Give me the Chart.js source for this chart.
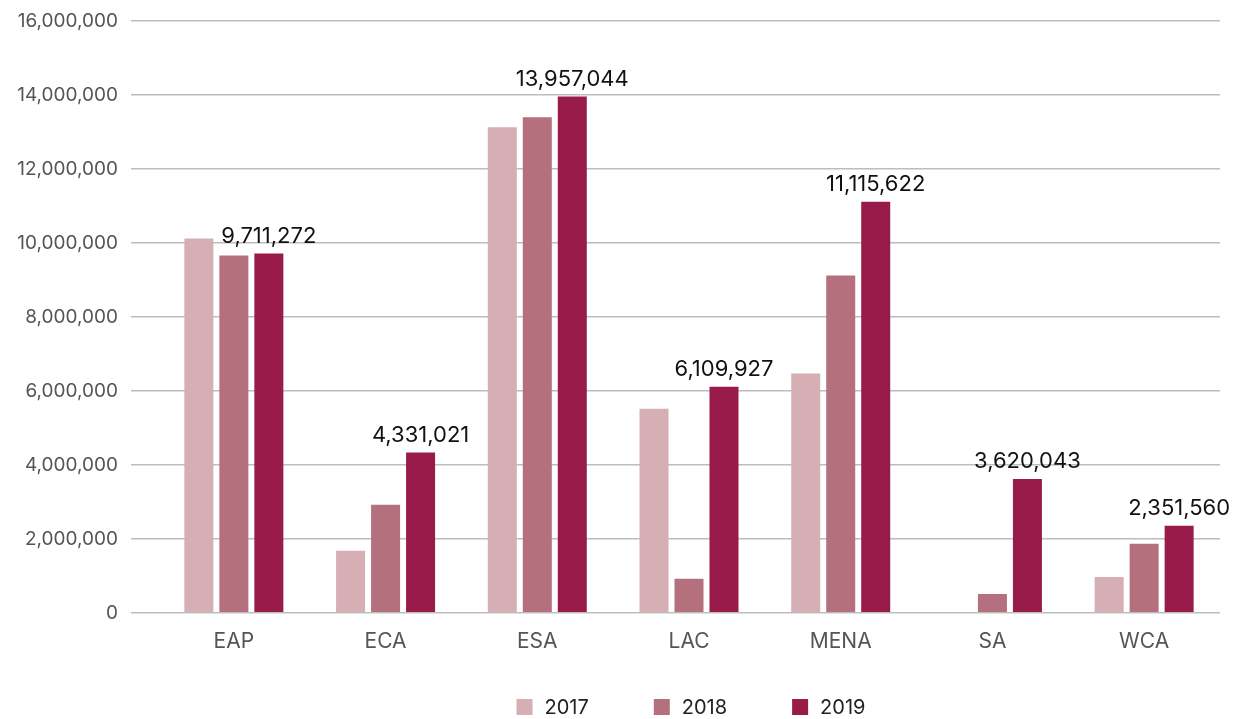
<!DOCTYPE html>
<html>
<head>
<meta charset="utf-8">
<script src="https://cdn.jsdelivr.net/npm/chart.js@4"></script>
<style>
  html, body { margin: 0; padding: 0; background: #fff; }
  #wrap { width: 1244px; height: 719px; }
</style>
</head>
<body>
<div id="wrap"><canvas id="chart" width="1244" height="719"></canvas></div>
<script>
// Data
const regions = ['EAP', 'ECA', 'ESA', 'LAC', 'MENA', 'SA', 'WCA'];
const years = ['2017', '2018', '2019'];
const values2017 = [10120000, 1680000, 13130000, 5520000, 6470000, 0, 970000];
const values2018 = [9660000, 2920000, 13400000, 920000, 9120000, 510000, 1870000];
const values2019 = [9711272, 4331021, 13957044, 6109927, 11115622, 3620043, 2351560];
const yTicks = [0, 2000000, 4000000, 6000000, 8000000, 10000000, 12000000, 14000000, 16000000];

const colors = ['#d5afb3', '#b5707e', '#991b4a'];
const fontFamily = 'Inter, "Noto Sans", sans-serif';

// Value labels above the 2019 bars
const topLabels = {
    id: 'topLabels',
    afterDatasetsDraw(chart) {
        const ctx = chart.ctx;
        const meta = chart.getDatasetMeta(2);
        ctx.save();
        ctx.font = '22px ' + fontFamily;
        ctx.fillStyle = '#111';
        ctx.textAlign = 'center';
        ctx.textBaseline = 'alphabetic';
        meta.data.forEach((bar, i) => {
            ctx.fillText(values2019[i].toLocaleString('en-US'), bar.x, bar.y - 11);
        });
        ctx.restore();
    }
};

// Legend drawn below the axis labels (wide spacing between items)
const bottomLegend = {
    id: 'bottomLegend',
    afterDraw(chart) {
        const ctx = chart.ctx;
        const area = chart.chartArea;
        const box = 16, gapText = 12, gapItem = 65;
        ctx.save();
        ctx.font = '20px ' + fontFamily;
        const widths = years.map(y => box + gapText + ctx.measureText(y).width);
        const total = widths.reduce((a, b) => a + b, 0) + gapItem * (years.length - 1);
        let x = (area.left + area.right) / 2 + 2 - total / 2;
        const cy = 707;
        ctx.textBaseline = 'middle';
        years.forEach((y, i) => {
            ctx.fillStyle = colors[i];
            ctx.fillRect(x, cy - box / 2, box, box);
            ctx.fillStyle = '#222';
            ctx.fillText(y, x + box + gapText, cy + 1);
            x += widths[i] + gapItem;
        });
        ctx.restore();
    }
};

new Chart(document.getElementById('chart'), {
    type: 'bar',
    data: {
        labels: regions,
        datasets: [
            { label: years[0], data: values2017, backgroundColor: colors[0] },
            { label: years[1], data: values2018, backgroundColor: colors[1] },
            { label: years[2], data: values2019, backgroundColor: colors[2] }
        ]
    },
    options: {
        responsive: false,
        animation: false,
        layout: { padding: { left: 10, right: 24, top: 21, bottom: 57 } },
        datasets: {
            bar: { categoryPercentage: 0.692, barPercentage: 0.829 }
        },
        plugins: {
            legend: { display: false },
            tooltip: { enabled: false }
        },
        scales: {
            x: {
                grid: { display: false },
                border: { display: false },
                ticks: {
                    color: '#555',
                    padding: 8,
                    font: { family: fontFamily, size: 21 }
                }
            },
            y: {
                min: 0,
                max: 16000000,
                afterBuildTicks: axis => { axis.ticks = yTicks.map(v => ({ value: v })); },
                afterFit: axis => {
                    axis.width = 148;
                    axis.paddingTop = 0;
                    axis.paddingBottom = 0;
                },
                grid: { color: '#bdbdbf', lineWidth: 1.5, drawTicks: true, tickLength: 27 },
                border: { display: false },
                ticks: {
                    color: '#555',
                    padding: 13,
                    font: { family: fontFamily, size: 19 },
                    callback: v => v.toLocaleString('en-US')
                }
            }
        }
    },
    plugins: [topLabels, bottomLegend]
});
</script>
</body>
</html>
